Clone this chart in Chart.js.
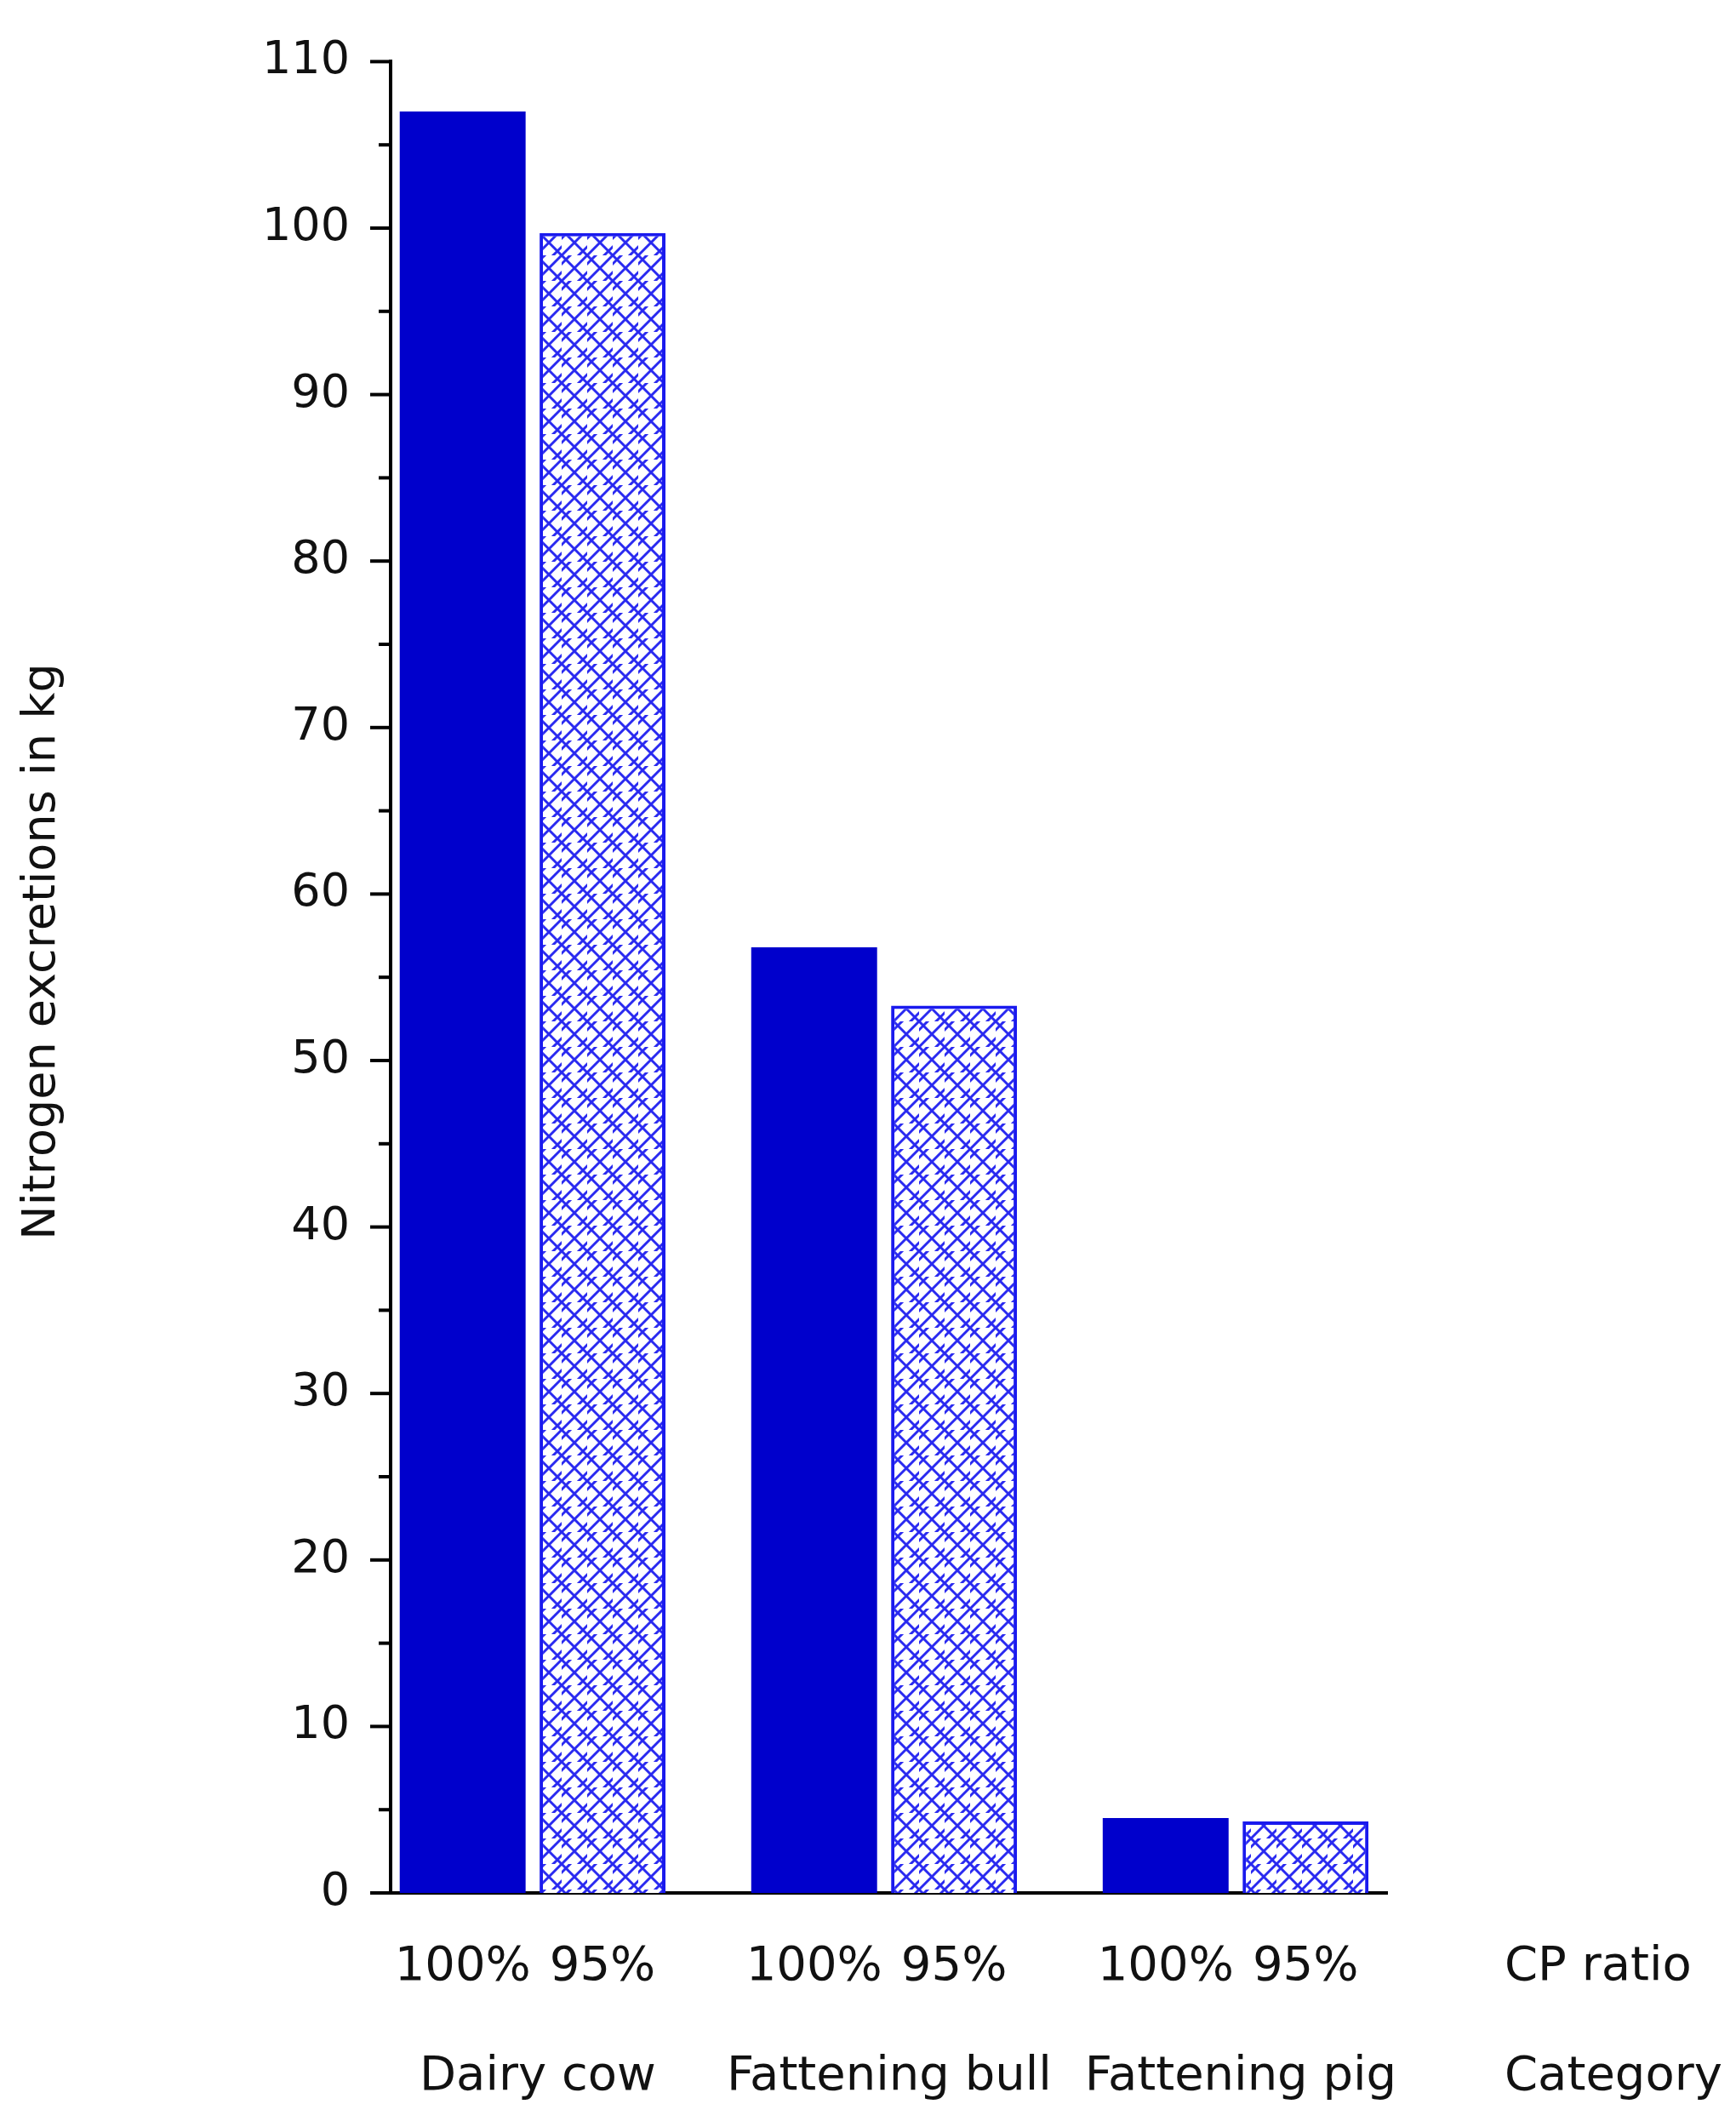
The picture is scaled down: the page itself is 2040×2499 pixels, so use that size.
<!DOCTYPE html>
<html lang="en">
<head>
<meta charset="UTF-8">
<title>Nitrogen excretions</title>
<script src="https://cdn.jsdelivr.net/npm/chart.js"></script>
<style>
  html, body { margin: 0; padding: 0; background: #fff; }
  #wrap { width: 2040px; height: 2499px; }
</style>
</head>
<body>
<div id="wrap"><canvas id="chart" width="2040" height="2499"></canvas></div>
<script>
// values
const categories = ['Dairy cow', 'Fattening bull', 'Fattening pig'];
const cpRatios = ['100%', '95%'];
const full = [107, 56.8, 4.5];
const reduced = [99.7, 53.3, 4.3];
const yTicks = [0, 10, 20, 30, 40, 50, 60, 70, 80, 90, 100, 110];

const FONT = '"DejaVu Sans", Verdana, sans-serif';

// cross hatch fill for the 95% bars
function hatch() {
    const c = document.createElement('canvas');
    c.width = 30; c.height = 30;
    const g = c.getContext('2d');
    g.fillStyle = '#fff';
    g.fillRect(0, 0, 30, 30);
    g.strokeStyle = '#2a2af0';
    g.lineWidth = 3;
    g.beginPath();
    g.moveTo(-5, -5); g.lineTo(35, 35);
    g.moveTo(-5, 35); g.lineTo(35, -5);
    g.moveTo(-20, 10); g.lineTo(10, 40);
    g.moveTo(20, -10); g.lineTo(40, 10);
    g.moveTo(-10, 20); g.lineTo(20, -10);
    g.moveTo(10, 40); g.lineTo(40, 10);
    g.stroke();
    return g.createPattern(c, 'repeat');
}

const toPoints = arr => arr.map((v, i) => ({ x: i, y: v }));

const extras = {
    id: 'extras',
    afterDraw(chart) {
        const ctx = chart.ctx;
        const x = chart.scales.x, y = chart.scales.y;
        const left = chart.chartArea.left;
        ctx.save();
        // y ticks: major every 10, minor every 5
        ctx.strokeStyle = '#000';
        ctx.lineWidth = 4;
        for (let v = 0; v <= 110; v += 5) {
            const py = y.getPixelForValue(v);
            const len = v % 10 === 0 ? 24 : 14;
            ctx.beginPath();
            ctx.moveTo(left - len, py);
            ctx.lineTo(left, py);
            ctx.stroke();
        }
        ctx.fillStyle = '#111';
        ctx.font = '56px ' + FONT;
        ctx.textBaseline = 'middle';
        ctx.textAlign = 'center';
        // CP ratio labels under each bar
        chart.data.datasets.forEach((ds, di) => {
            chart.getDatasetMeta(di).data.forEach(bar => {
                ctx.fillText(cpRatios[di], bar.x, 2311);
            });
        });
        categories.forEach((c, i) => {
            ctx.fillText(c, x.getPixelForValue(i) + 6, 2440);
        });
        ctx.textAlign = 'left';
        ctx.fillText('CP ratio', 1768, 2311);
        ctx.fillText('Category', 1768, 2440);
        // y title
        ctx.translate(50, 1118);
        ctx.rotate(-Math.PI / 2);
        ctx.textAlign = 'center';
        ctx.font = '54px ' + FONT;
        ctx.fillText('Nitrogen excretions in kg', 0, 0);
        ctx.restore();
    }
};

new Chart(document.getElementById('chart'), {
    type: 'bar',
    data: {
        datasets: [
            { label: cpRatios[0], data: toPoints(full), backgroundColor: '#0000cc',
              borderColor: '#0000cc', borderWidth: 0 },
            { label: cpRatios[1], data: toPoints(reduced), backgroundColor: hatch(),
              borderColor: '#1a1aee', borderWidth: 4 }
        ]
    },
    options: {
        responsive: false,
        animation: false,
        devicePixelRatio: 1,
        categoryPercentage: 1.97,
        barPercentage: 0.9,
        layout: { padding: { top: 9, right: 410, bottom: 275, left: 0 } },
        plugins: { legend: { display: false }, tooltip: { enabled: false } },
        scales: {
            x: {
                type: 'linear', min: -0.404, max: 2.431, offset: false,
                grid: { display: false },
                border: { display: true, color: '#000', width: 4 },
                ticks: { display: false },
                afterFit(s) { s.height = 0; }
            },
            y: {
                min: 0, max: 110,
                afterBuildTicks(s) { s.ticks = yTicks.map(v => ({ value: v })); },
                grid: { display: false },
                border: { display: true, color: '#000', width: 4 },
                ticks: { color: '#111', padding: 40, font: { size: 54, family: FONT } },
                afterFit(s) { s.width = 459; }
            }
        }
    },
    plugins: [extras]
});
</script>
</body>
</html>
